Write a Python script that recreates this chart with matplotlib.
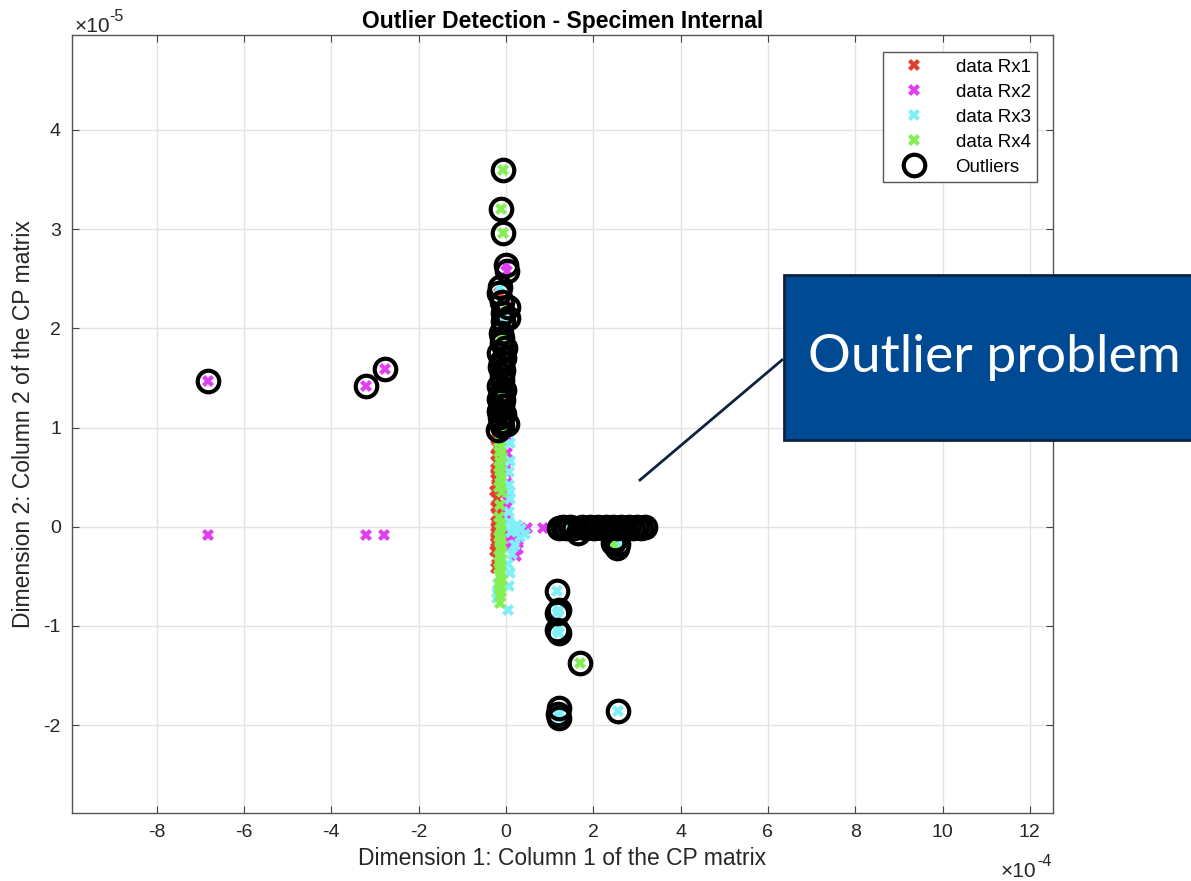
import matplotlib
matplotlib.use("Agg")
import matplotlib.pyplot as plt
from matplotlib.patches import Rectangle
from matplotlib.lines import Line2D

plt.rcParams["font.family"] = ["Liberation Sans", "DejaVu Sans"]
plt.rcParams["axes.unicode_minus"] = False

# values in units of 1e-4 (x) and 1e-5 (y)
rx1_x = [-0.22, -0.21, -0.23, -0.20, -0.22, -0.19, -0.21, -0.24, -0.20, -0.22, -0.21, -0.23,
         -0.20, -0.22, -0.19, -0.21, -0.24, -0.22, -0.20, -0.23, -0.21, -0.22, -0.20, -0.23]
rx1_y = [0.88, 0.80, 0.72, 0.65, 0.58, 0.50, 0.43, 0.36, 0.28, 0.20, 0.12, 0.05,
         0.00, -0.06, -0.12, -0.18, -0.24, -0.10, 0.47, 0.54, -0.32, -0.42, 0.02, -0.15]
rx1_out_x = [-0.15, -0.15, -0.14]
rx1_out_y = [2.36, 1.29, 1.61]

rx2_x = [-6.82, -3.21, -2.79, 0.02, 0.03, 0.01, 0.02, 0.04, 0.03, 0.02,
         0.48, 0.38, 0.27, 0.27, 0.24, 0.85, 0.05, 0.03, 0.02, 0.10]
rx2_y = [-0.08, -0.08, -0.08, 0.90, 0.74, 0.60, 0.44, 0.32, 0.20, 0.08,
         -0.01, -0.03, -0.13, -0.22, -0.30, -0.01, -0.05, -0.20, 0.55, -0.10]
rx2_out_x = [-6.82, -3.21, -2.77, 0.00, 0.02, -0.06, -0.07, 0.05]
rx2_out_y = [1.47, 1.42, 1.59, 2.64, 2.58, 1.58, 1.28, 2.22]

rx3_x = [0.08, 0.09, 0.10, 0.07, 0.06, 0.09, 0.16, 0.43, 0.32, 0.20, 0.13, 0.09,
         0.05, -0.21, 0.08, 0.06, 0.25, 0.35, 0.12, 0.04, 0.07, -0.18, -0.20, 0.10]
rx3_y = [0.95, 0.84, 0.66, 0.55, 0.42, 0.28, 0.00, -0.07, -0.10, -0.18, -0.27, -0.47,
         -0.84, -0.67, 0.15, 0.05, 0.02, -0.02, -0.05, -0.38, -0.60, -0.58, -0.72, 0.35]
rx3_out_x = [-0.06, -0.06, 0.05, -0.14, -0.02, -0.10, -0.14, 0.02, -0.18,
             1.22, 1.30, 1.37, 1.46, 1.55, 1.65, 1.74, 1.83, 1.92, 2.01, 2.10, 2.19,
             2.28, 2.37, 2.46, 2.55, 2.64, 2.73, 2.82, 2.91, 3.00, 3.10, 3.18,
             2.50, 2.56, 2.54,
             1.18, 1.18, 1.22, 1.18, 1.22, 1.22, 1.20, 1.22, 2.57]
rx3_out_y = [2.15, 2.07, 2.10, 2.42, 1.80, 1.48, 1.11, 1.04, 0.97,
             -0.01, 0.00, -0.01, 0.00, -0.01, -0.06, 0.00, -0.01, 0.00, -0.01, 0.00, -0.01,
             0.00, -0.01, 0.00, -0.01, 0.00, -0.01, 0.00, -0.01, 0.00, -0.01, 0.00,
             -0.12, -0.17, -0.21,
             -0.645, -0.87, -0.84, -1.04, -1.07, -1.83, -1.89, -1.93, -1.86]

rx4_x = [-0.14, -0.11, -0.16, -0.12, -0.15, -0.10, -0.13, -0.16, -0.11, -0.14, -0.12, -0.15,
         -0.10, -0.13, -0.15, -0.12, -0.14, -0.11, -0.16, -0.13, -0.10, -0.14, -0.12, -0.15,
         -0.11, -0.13, -0.16, -0.12, -0.14, -0.10, -0.15, -0.13, -0.11, -0.14, -0.14]
rx4_y = [0.95, 0.90, 0.85, 0.80, 0.75, 0.70, 0.65, 0.60, 0.55, 0.50, 0.45, 0.40,
         0.35, 0.22, 0.10, 0.03, -0.02, -0.06, -0.10, -0.14, -0.18, -0.22, -0.26, -0.30,
         -0.34, -0.38, -0.42, -0.46, -0.50, -0.54, -0.58, -0.62, -0.66, -0.70, -0.77]
rx4_out_x = [-0.06, -0.11, -0.07, -0.09, -0.10, -0.10, -0.12, -0.08, -0.15, -0.05,
             -0.12, -0.08, -0.15, -0.05, -0.12, -0.08, -0.15, -0.05, -0.12, 1.69, 2.45]
rx4_out_y = [3.60, 3.20, 2.96, 2.27, 1.85, 1.02, 1.95, 1.90, 1.75, 1.70,
             1.66, 1.53, 1.42, 1.38, 1.34, 1.22, 1.17, 1.14, 1.06, -1.37, -0.16]

labels = ["data Rx1", "data Rx2", "data Rx3", "data Rx4"]
colors = ["#e53f2b", "#e03ef0", "#80f0f8", "#84ee52"]

series = [(rx1_x + rx1_out_x, rx1_y + rx1_out_y),
          (rx2_x + rx2_out_x, rx2_y + rx2_out_y),
          (rx3_x + rx3_out_x, rx3_y + rx3_out_y),
          (rx4_x + rx4_out_x, rx4_y + rx4_out_y)]
out_x = rx1_out_x + rx2_out_x + rx3_out_x + rx4_out_x
out_y = rx1_out_y + rx2_out_y + rx3_out_y + rx4_out_y

fig = plt.figure(figsize=(11.91, 8.81), dpi=100)
ax = fig.add_axes([72 / 1191, 68 / 881, 981 / 1191, 778 / 881])

for (sx, sy), lab, col in zip(series, labels, colors):
    ax.plot(sx, sy, linestyle="none", marker="X", markersize=8, markeredgewidth=0,
            color=col, label=lab)
ax.plot(out_x, out_y, linestyle="none", marker="o", markersize=15.5, markeredgewidth=3,
        markerfacecolor="none", markeredgecolor="black", label="Outliers")

ax.set_xlim(-9.94, 12.53)
ax.set_ylim(-2.886, 4.957)
ax.set_xticks(range(-8, 13, 2))
ax.set_yticks(range(-2, 5))
ax.grid(True, color="#e3e3e3", linewidth=1)
ax.set_axisbelow(True)
ax.tick_params(direction="in", top=True, right=True, labelsize=14, length=5,
               color="#444444", labelcolor="#262626", pad=8)
for s in ax.spines.values():
    s.set_color("#555555")
    s.set_linewidth(1)

ax.set_title("Outlier Detection - Specimen Internal", fontsize=16.5, fontweight="bold", pad=5)
ax.set_xlabel("Dimension 1: Column 1 of the CP matrix", fontsize=16.5, color="#262626", labelpad=4)
ax.set_ylabel("Dimension 2: Column 2 of the CP matrix", fontsize=16.5, color="#262626", labelpad=6)

# MATLAB style exponent labels
fig.text(75 / 1191, 1 - 32 / 881, "\u00d710", fontsize=15, color="#262626", ha="left", va="baseline")
fig.text(109 / 1191, 1 - 21 / 881, "-5", fontsize=11.5, color="#262626", ha="left", va="baseline")
fig.text(1036 / 1191, 1 - 877 / 881, "\u00d710", fontsize=15, color="#262626", ha="right", va="baseline")
fig.text(1037 / 1191, 1 - 866 / 881, "-4", fontsize=11.5, color="#262626", ha="left", va="baseline")

leg = ax.legend(loc="upper right", bbox_to_anchor=(0.984, 0.978), borderaxespad=0,
                fontsize=13.5, fancybox=False, edgecolor="#555555", framealpha=1,
                labelspacing=0.42, handletextpad=0.9, borderpad=0.35, handlelength=2.6)
leg.get_frame().set_linewidth(1)

# callout
fig.add_artist(Line2D([640 / 1191, 782 / 1191], [1 - 480 / 881, 1 - 360 / 881],
                      color="#0d2340", linewidth=2))
fig.add_artist(Rectangle((784 / 1191, 1 - 440 / 881), 0.4, 165 / 881,
                         facecolor="#004a93", edgecolor="#0d2340", linewidth=2))
fig.text(808 / 1191, 1 - 358 / 881, "Outlier problem", fontsize=38.5, color="white",
         family="Lato", ha="left", va="center")

fig.savefig("out.png", dpi=100)
